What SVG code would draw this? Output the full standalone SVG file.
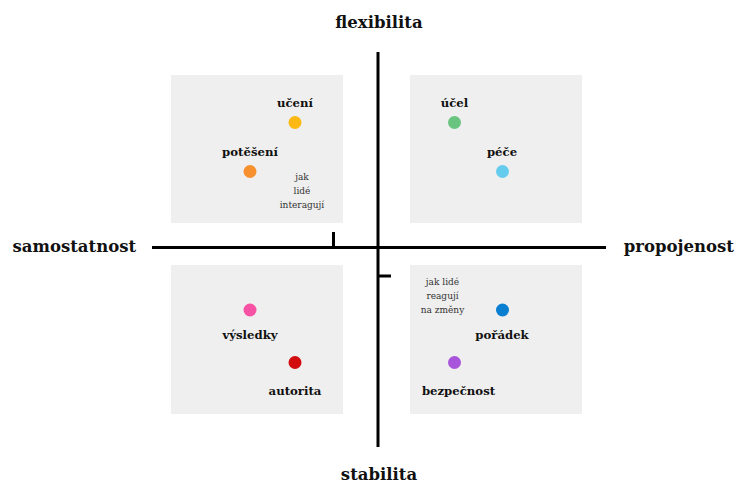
<svg xmlns="http://www.w3.org/2000/svg" width="737" height="485" viewBox="0 0 737 485">
<style>
.box{fill:#efefef}
.ax{stroke:#000;stroke-width:3;fill:none}
.axl{font-family:"DejaVu Serif",serif;font-weight:bold;font-size:16.5px;fill:#111}
.lbl{font-family:"DejaVu Serif",serif;font-weight:bold;font-size:11.7px;fill:#111;text-anchor:middle}
.note{font-family:"DejaVu Serif",serif;font-size:9px;fill:#333;text-anchor:middle}
</style>
<rect width="737" height="485" fill="#fff"/>
<g id="quadrants">
<rect class="box" x="171" y="75" width="172" height="148"/>
<rect class="box" x="410" y="75" width="172" height="148"/>
<rect class="box" x="171" y="265" width="172" height="149"/>
<rect class="box" x="410" y="265" width="172" height="149"/>
</g>
<g id="connectors">
<line class="ax" x1="152" y1="247.5" x2="606" y2="247.5"/>
<line class="ax" x1="378" y1="52" x2="378" y2="447"/>
<line class="ax" x1="333.5" y1="232" x2="333.5" y2="247"/>
<line class="ax" x1="378" y1="276" x2="391" y2="276"/>
</g>
<g id="axis-labels">
<text class="axl" x="379" y="28" text-anchor="middle">flexibilita</text>
<text class="axl" x="379" y="480" text-anchor="middle">stabilita</text>
<text class="axl" x="12.5" y="252">samostatnost</text>
<text class="axl" x="734" y="252" text-anchor="end">propojenost</text>
</g>
<g id="uceni"><text class="lbl" x="295" y="107">učení</text><circle cx="295" cy="122.5" r="6.5" fill="#fdb913"/></g>
<g id="poteseni"><text class="lbl" x="250" y="155.5">potěšení</text><circle cx="250" cy="171.5" r="6.5" fill="#f7912f"/></g>
<g id="note-interaguji"><text class="note" x="302" y="180">jak</text><text class="note" x="302" y="193.5">lidé</text><text class="note" x="302" y="207.5">interagují</text></g>
<g id="ucel"><text class="lbl" x="454.5" y="107">účel</text><circle cx="454.5" cy="122.5" r="6.5" fill="#69c47f"/></g>
<g id="pece"><text class="lbl" x="502" y="155.5">péče</text><circle cx="502.5" cy="171.5" r="6.5" fill="#66ccee"/></g>
<g id="vysledky"><circle cx="250" cy="310" r="6.5" fill="#f752a3"/><text class="lbl" x="250" y="339">výsledky</text></g>
<g id="autorita"><circle cx="295" cy="362.5" r="6.5" fill="#d10d0d"/><text class="lbl" x="295" y="395">autorita</text></g>
<g id="note-zmeny"><text class="note" x="442.5" y="285">jak lidé</text><text class="note" x="442.5" y="298.5">reagují</text><text class="note" x="442.5" y="313">na změny</text></g>
<g id="poradek"><circle cx="502.5" cy="310" r="6.5" fill="#0a7fd1"/><text class="lbl" x="502" y="339">pořádek</text></g>
<g id="bezpecnost"><circle cx="454.5" cy="362.5" r="6.5" fill="#a855db"/><text class="lbl" x="458.5" y="395">bezpečnost</text></g>
</svg>
